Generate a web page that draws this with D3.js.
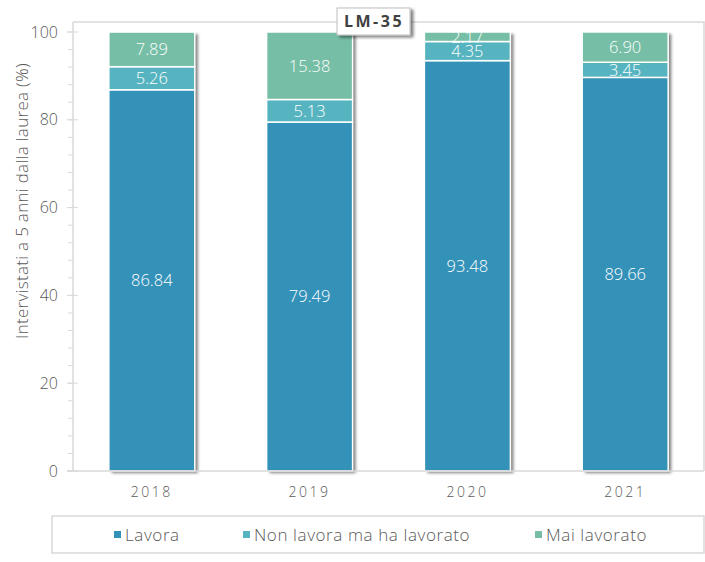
<!DOCTYPE html>
<html>
<head>
<meta charset="utf-8">
<script src="https://cdn.jsdelivr.net/npm/d3@7"></script>
<style>
  body { margin: 0; background: #fff; }
  svg { font-family: "Open Sans", Lato, sans-serif; font-weight: 300; }
</style>
</head>
<body>
<svg width="705" height="562"></svg>
<script>
const years = ["2018", "2019", "2020", "2021"];
const series = ["Lavora", "Non lavora ma ha lavorato", "Mai lavorato"];
const lavora = [86.84, 79.49, 93.48, 89.66];
const nonLavora = [5.26, 5.13, 4.35, 3.45];
const maiLavorato = [7.89, 15.38, 2.17, 6.90];
const yTicks = [0, 20, 40, 60, 80, 100];
const colors = ["#3492b9", "#56b4c0", "#76bea5"];

const svg = d3.select("svg");

const plot = { left: 73, right: 704, top: 22, bottom: 471 };

const x = d3.scaleBand().domain(years).range([plot.left, plot.right]).paddingInner(0.455).paddingOuter(0.227);
const y = d3.scaleLinear().domain([0, 100]).range([plot.bottom, 32]);

const rows = years.map((yr, i) => ({ year: yr, Lavora: lavora[i], "Non lavora ma ha lavorato": nonLavora[i], "Mai lavorato": maiLavorato[i] }));
const stacked = d3.stack().keys(series)(rows);

const defs = svg.append("defs");
const f = defs.append("filter").attr("id", "shadow").attr("x", "-20%").attr("y", "-20%").attr("width", "140%").attr("height", "140%");
f.append("feGaussianBlur").attr("in", "SourceAlpha").attr("stdDeviation", 1.5);
f.append("feOffset").attr("dx", 3).attr("dy", 2).attr("result", "ob");
f.append("feComponentTransfer").append("feFuncA").attr("type", "linear").attr("slope", 0.5);
const fm = f.append("feMerge");
fm.append("feMergeNode");
fm.append("feMergeNode").attr("in", "SourceGraphic");

// plot frame (top + right)
svg.append("path")
  .attr("d", `M${plot.left},${plot.top}H${plot.right}V${plot.bottom}`)
  .attr("fill", "none").attr("stroke", "#d9d9d9").attr("stroke-width", 1.5);

// bar shadows
svg.append("g").selectAll("rect")
  .data(rows)
  .join("rect")
  .attr("x", d => x(d.year))
  .attr("y", y(100))
  .attr("width", x.bandwidth())
  .attr("height", y(0) - y(100))
  .attr("fill", "#fff")
  .attr("filter", "url(#shadow)");

// bars
const layers = svg.append("g").selectAll("g")
  .data(stacked)
  .join("g")
  .attr("fill", (d, i) => colors[i]);

layers.selectAll("rect")
  .data(d => d)
  .join("rect")
  .attr("x", d => x(d.data.year))
  .attr("y", d => y(d[1]))
  .attr("width", x.bandwidth())
  .attr("height", d => y(d[0]) - y(d[1]))
  .attr("stroke", "#fff")
  .attr("stroke-width", 1.5);

layers.selectAll("text")
  .data(d => d)
  .join("text")
  .attr("x", d => x(d.data.year) + x.bandwidth() / 2)
  .attr("y", d => y((d[0] + d[1]) / 2))
  .attr("dy", "0.36em")
  .attr("text-anchor", "middle")
  .attr("fill", "#fff")
  .style("font-size", "16.5px")
  .text(d => (d[1] - d[0]).toFixed(2));

// y axis
const yAxis = svg.append("g").attr("transform", `translate(${plot.left},0)`);
yAxis.append("line").attr("y1", plot.top).attr("y2", plot.bottom).attr("stroke", "#d9d9d9").attr("stroke-width", 1.5);
yAxis.selectAll(".minor")
  .data(d3.range(0, 101, 4))
  .join("line")
  .attr("x1", -5).attr("x2", 0)
  .attr("y1", d => y(d)).attr("y2", d => y(d))
  .attr("stroke", "#d9d9d9");
yAxis.selectAll(".major")
  .data(yTicks)
  .join("line")
  .attr("x1", -6).attr("x2", 5)
  .attr("y1", d => y(d)).attr("y2", d => y(d))
  .attr("stroke", "#d9d9d9");
yAxis.selectAll("text")
  .data(yTicks)
  .join("text")
  .attr("x", -15)
  .attr("y", d => y(d))
  .attr("dy", "0.35em")
  .attr("text-anchor", "end")
  .attr("fill", "#595959")
  .style("font-size", "16px")
  .text(d => d);

// x axis
svg.append("line")
  .attr("x1", plot.left - 6).attr("x2", plot.right)
  .attr("y1", plot.bottom).attr("y2", plot.bottom)
  .attr("stroke", "#d9d9d9").attr("stroke-width", 1.5);
svg.append("g").selectAll("text")
  .data(years)
  .join("text")
  .attr("x", d => x(d) + x.bandwidth() / 2)
  .attr("y", 497)
  .attr("text-anchor", "middle")
  .attr("fill", "#595959")
  .style("font-size", "14px")
  .style("letter-spacing", "2.5px")
  .text(d => d);

// y label
svg.append("text")
  .attr("transform", "translate(28,201) rotate(-90)")
  .attr("text-anchor", "middle")
  .attr("fill", "#595959")
  .style("font-size", "17px")
  .style("letter-spacing", "0.3px")
  .text("Intervistati a 5 anni dalla laurea (%)");

// title box
svg.append("rect")
  .attr("x", 337).attr("y", 8).attr("width", 73).attr("height", 27)
  .attr("fill", "#fff").attr("stroke", "#bfbfbf")
  .attr("filter", "url(#shadow)");
svg.append("text")
  .attr("x", 374).attr("y", 27)
  .attr("text-anchor", "middle")
  .attr("fill", "#404040")
  .style("font-size", "16px")
  .style("font-weight", "bold")
  .style("letter-spacing", "2.5px")
  .text("LM-35");

// legend
svg.append("rect")
  .attr("x", 52).attr("y", 516).attr("width", 652).attr("height", 37)
  .attr("fill", "none").attr("stroke", "#d9d9d9").attr("stroke-width", 1.5);
const legendX = [114, 243, 535];
const legend = svg.append("g").selectAll("g")
  .data(series)
  .join("g")
  .attr("transform", (d, i) => `translate(${legendX[i]},535)`);
legend.append("rect")
  .attr("x", 0).attr("y", -4).attr("width", 7).attr("height", 7)
  .attr("fill", (d, i) => colors[i]);
legend.append("text")
  .attr("x", 11).attr("dy", "0.35em")
  .attr("fill", "#595959")
  .style("font-size", "17px")
  .style("letter-spacing", "0.6px")
  .text(d => d);
</script>
</body>
</html>
